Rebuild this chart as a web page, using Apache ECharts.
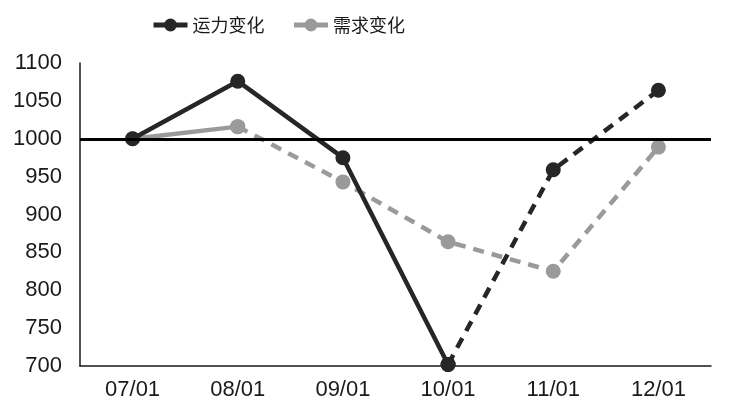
<!DOCTYPE html>
<html>
<head>
<meta charset="utf-8">
<script src="https://cdn.jsdelivr.net/npm/echarts@6/dist/echarts.min.js"></script>
<style>
  html, body { margin: 0; padding: 0; background: #fff; }
  #chart { width: 729px; height: 415px; }
</style>
</head>
<body>
<div id="chart"></div>
<script>
// 月份
const months = ['07/01', '08/01', '09/01', '10/01', '11/01', '12/01']
// 运力变化：实线部分 + 虚线部分（10/01 之后为预测）
const capacitySolid = [1000, 1076, 975, 702, null, null]
const capacityDashed = [null, null, null, 702, 959, 1064]
// 需求变化：实线部分 + 虚线部分（08/01 之后）
const demandSolid = [1000, 1016, null, null, null, null]
const demandDashed = [null, 1016, 943, 864, 825, 989]
// 基准线
const baseLine = 1000

const darkColor = '#262626'
const grayColor = '#9a9a9a'
const fontFamily = 'Liberation Sans, Arial, sans-serif'

const chart = echarts.init(document.getElementById('chart'))

const makeSeries = (name, data, color, dashed, z) => ({
  name,
  type: 'line',
  data,
  z,
  symbol: 'circle',
  symbolSize: 15,
  connectNulls: false,
  itemStyle: { color },
  lineStyle: { color, width: 4.5, type: dashed ? [11, 8] : 'solid' },
  emphasis: { disabled: true }
})

const option = {
  animation: false,
  textStyle: { fontFamily },
  legend: {
    top: 11,
    left: 146,
    itemWidth: 34,
    itemHeight: 16,
    itemGap: 27,
    lineStyle: { width: 5 },
    textStyle: { fontSize: 18, color: '#1a1a1a', fontFamily: 'Noto Sans CJK SC, sans-serif' },
    data: ['运力变化', '需求变化']
  },
  grid: { left: 80, right: 18, top: 63, bottom: 49 },
  xAxis: {
    type: 'category',
    data: months,
    boundaryGap: true,
    axisLine: { lineStyle: { color: '#1a1a1a', width: 1.5 } },
    axisTick: { show: false },
    axisLabel: { fontSize: 22, color: '#1a1a1a', margin: 13 }
  },
  yAxis: {
    type: 'value',
    min: 700,
    max: 1100,
    interval: 50,
    axisLine: { show: true, lineStyle: { color: '#1a1a1a', width: 1.5 } },
    axisTick: { show: false },
    splitLine: { show: false },
    axisLabel: { fontSize: 22, color: '#1a1a1a', margin: 18, formatter: (v) => String(v) }
  },
  series: [
    makeSeries('需求变化', demandSolid, grayColor, false, 2),
    makeSeries('需求变化', demandDashed, grayColor, true, 2),
    Object.assign(makeSeries('运力变化', capacitySolid, darkColor, false, 3), {
      markLine: {
        silent: true,
        symbol: 'none',
        label: { show: false },
        lineStyle: { color: '#000', width: 3, type: 'solid' },
        data: [{ yAxis: baseLine }]
      }
    }),
    makeSeries('运力变化', capacityDashed, darkColor, true, 3)
  ]
}

chart.setOption(option)
</script>
</body>
</html>
